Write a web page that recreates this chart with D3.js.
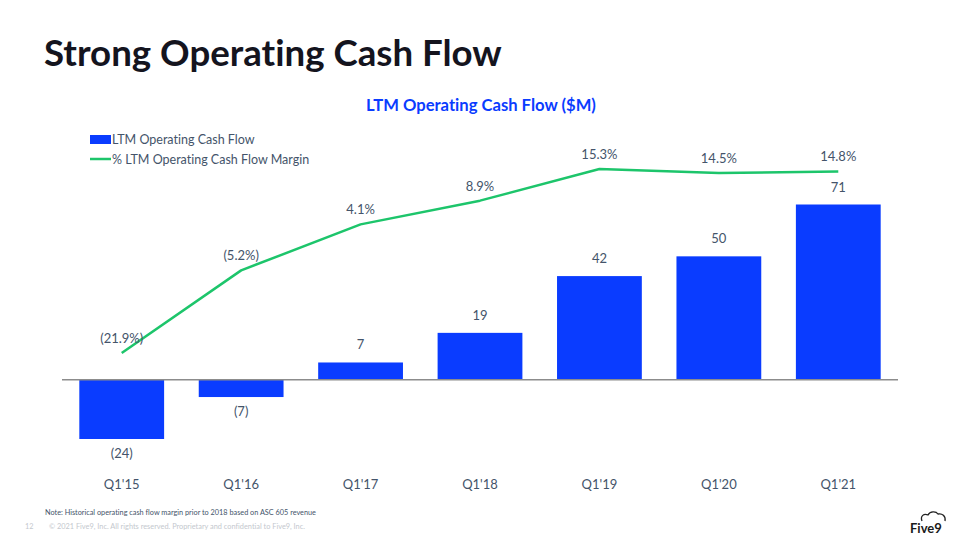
<!DOCTYPE html>
<html><head><meta charset="utf-8">
<script src="https://cdn.jsdelivr.net/npm/d3@7"></script>
<style>
html,body{margin:0;padding:0;background:#fff;}
svg{display:block;font-family:Lato,"Open Sans",sans-serif;font-variant-ligatures:none;font-feature-settings:"liga" 0;}
</style></head>
<body>
<svg id="chart" width="960" height="540"></svg>
<script>
const categories = ["Q1'15","Q1'16","Q1'17","Q1'18","Q1'19","Q1'20","Q1'21"];
const cashFlow = [-24, -7, 7, 19, 42, 50, 71];
const cashFlowLabels = ["(24)","(7)","7","19","42","50","71"];
const margin = [-21.9, -5.2, 4.1, 8.9, 15.3, 14.5, 14.8];
const marginLabels = ["(21.9%)","(5.2%)","4.1%","8.9%","15.3%","14.5%","14.8%"];

const svg = d3.select("#chart");
const barColor = "#0a3cff", lineColor = "#1dc56b", txt = "#44546a";

function fit(sel, w){ const n = sel.node(); const l = n.getComputedTextLength(); const fs = parseFloat(sel.attr("font-size")); sel.attr("font-size", fs * w / l); }

const title = svg.append("text").attr("x",44).attr("y",66).attr("font-size",36).attr("font-weight","bold").attr("fill","#14141e").text("Strong Operating Cash Flow");
fit(title, 458);

const ct = svg.append("text").attr("x",481).attr("y",111).attr("text-anchor","middle").attr("font-size",16).attr("font-weight","bold").attr("fill",barColor).text("LTM Operating Cash Flow ($M)");
fit(ct, 230);

// legend
svg.append("rect").attr("x",90).attr("y",135).attr("width",21).attr("height",9).attr("fill",barColor);
svg.append("text").attr("x",112).attr("y",144).attr("font-size",12.5).attr("fill",txt).text("LTM Operating Cash Flow");
svg.append("line").attr("x1",90).attr("x2",111).attr("y1",159).attr("y2",159).attr("stroke",lineColor).attr("stroke-width",2.5);
svg.append("text").attr("x",112).attr("y",164).attr("font-size",12.5).attr("fill",txt).text("% LTM Operating Cash Flow Margin");

const x = d3.scaleBand().domain(categories).range([62,898]).paddingInner(0.29).paddingOuter(0.145);
const y = d3.scaleLinear().domain([-24, 71]).range([439, 204.5]);
const ym = d3.scaleLinear().domain([-21.9, 15.3]).range([353, 169]);

svg.selectAll("rect.bar").data(cashFlow).join("rect").attr("class","bar")
  .attr("x",(d,i)=>x(categories[i])).attr("width",x.bandwidth())
  .attr("y",d=>Math.min(y(0),y(d))).attr("height",d=>Math.abs(y(d)-y(0)))
  .attr("fill",barColor);

svg.append("line").attr("x1",62).attr("x2",898).attr("y1",y(0)).attr("y2",y(0)).attr("stroke","#8c8c8c").attr("stroke-width",1.3);

svg.selectAll("text.bl").data(cashFlow).join("text").attr("class","bl")
  .attr("x",(d,i)=>x(categories[i])+x.bandwidth()/2)
  .attr("y",d=> d<0 ? y(d)+19 : y(d)-13)
  .attr("text-anchor","middle").attr("font-size",13).attr("fill",txt)
  .text((d,i)=>cashFlowLabels[i]);

const line = d3.line().x((d,i)=>x(categories[i])+x.bandwidth()/2).y(d=>ym(d));
svg.append("path").datum(margin).attr("d",line).attr("fill","none").attr("stroke",lineColor).attr("stroke-width",2.5).attr("stroke-linejoin","round");

svg.selectAll("text.ml").data(margin).join("text").attr("class","ml")
  .attr("x",(d,i)=>x(categories[i])+x.bandwidth()/2)
  .attr("y",d=>ym(d)-10)
  .attr("text-anchor","middle").attr("font-size",13).attr("fill",txt)
  .text((d,i)=>marginLabels[i]);

const xa = svg.append("g").attr("transform","translate(0,480)").call(d3.axisBottom(x).tickSize(0).tickPadding(0));
xa.select(".domain").remove();
xa.selectAll("text").attr("font-size",13).attr("fill",txt).attr("font-family","Lato,'Open Sans',sans-serif").attr("dy","0.71em");

svg.append("text").attr("x",45).attr("y",515).attr("font-size",7.3).attr("fill","#44546a").text("Note: Historical operating cash flow margin prior to 2018 based on ASC 605 revenue");
svg.append("text").attr("x",25).attr("y",529).attr("font-size",7.3).attr("fill","#c4c8ce").text("12");
const cp = svg.append("text").attr("x",49).attr("y",529).attr("font-size",7.3).attr("fill","#c4c8ce").text("© 2021 Five9, Inc. All rights reserved. Proprietary and confidential to Five9, Inc.");
fit(cp, 256);

// logo
const lg = svg.append("g");
lg.append("path").attr("d","M922,521 C920,516 924,513 928,515 C930,511 936,511 938,514 C942,513 946,516 945,521").attr("fill","none").attr("stroke","#222").attr("stroke-width",1.3);
lg.append("text").attr("x",910).attr("y",533).attr("font-size",13).attr("font-weight","bold").attr("fill","#1a1a1a").text("Five9");
</script>
</body></html>
